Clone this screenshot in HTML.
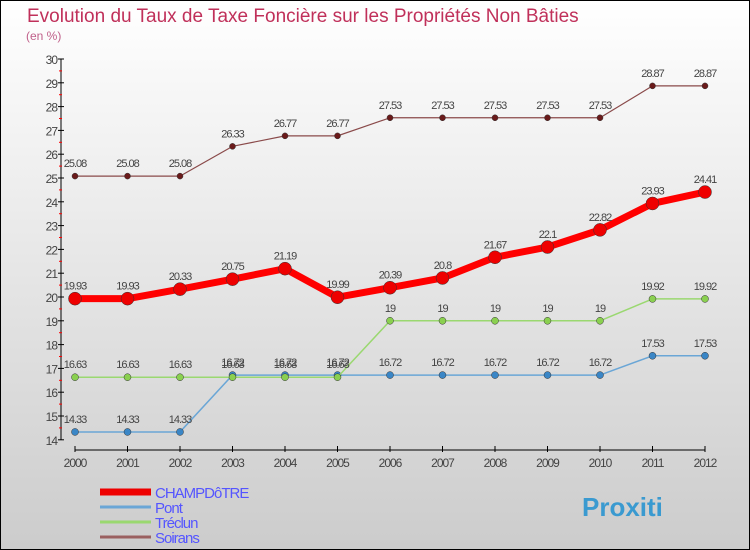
<!DOCTYPE html>
<html><head><meta charset="utf-8"><style>
body{margin:0;width:750px;height:550px;overflow:hidden}
#c{position:absolute;left:0;top:0;width:748px;height:548px;border:1px solid #000;background:linear-gradient(#fff,#ccc)}
svg{position:absolute;left:0;top:0}
text{font-family:"Liberation Sans",sans-serif}
</style></head><body>
<div id="c"></div>
<svg id="s" width="750" height="550"></svg>
<script>
const years=[2000,2001,2002,2003,2004,2005,2006,2007,2008,2009,2010,2011,2012];
const champ=[19.93,19.93,20.33,20.75,21.19,19.99,20.39,20.8,21.67,22.1,22.82,23.93,24.41];
const pont=[14.33,14.33,14.33,16.72,16.72,16.72,16.72,16.72,16.72,16.72,16.72,17.53,17.53];
const treclun=[16.63,16.63,16.63,16.63,16.63,16.63,19,19,19,19,19,19.92,19.92];
const soirans=[25.08,25.08,25.08,26.33,26.77,26.77,27.53,27.53,27.53,27.53,27.53,28.87,28.87];
const yTicks=[14,15,16,17,18,19,20,21,22,23,24,25,26,27,28,29,30];
const xs=i=>75+i*52.5, ys=v=>297-(v-20)*23.8;
const S=document.getElementById('s'),NS='http://www.w3.org/2000/svg';
function el(t,a,txt){const e=document.createElementNS(NS,t);for(const k in a)e.setAttribute(k,a[k]);if(txt!==undefined)e.textContent=txt;S.appendChild(e);return e;}
let e;
e=el('text',{x:27,y:22,'font-size':19,fill:'#c0305a'},'Evolution du Taux de Taxe Foncière sur les Propriétés Non Bâties');

e=el('text',{x:26,y:40,'font-size':12,fill:'#c0608a'},'(en %)');

e=el('line',{x1:61,y1:59,x2:61,y2:440,stroke:'#000'});

e=el('line',{x1:75,y1:450,x2:705,y2:450,stroke:'#000'});

yTicks.forEach(v=>{const y=ys(v);el('line',{x1:58,y1:y,x2:64,y2:y,stroke:'#000'});
 if(v<30)el('line',{x1:59,y1:y-11.9,x2:62,y2:y-11.9,stroke:'red'});
 e=el('text',{x:57,y:y+5,'font-size':12,fill:'#444','text-anchor':'end','letter-spacing':'-1'},v);
 });
years.forEach((yr,i)=>{el('line',{x1:xs(i),y1:446,x2:xs(i),y2:452,stroke:'#000'});
 e=el('text',{x:xs(i),y:467,'font-size':12,fill:'#444','text-anchor':'middle','letter-spacing':'-1'},yr);
 });
function series(d,name,col,w,dot,dotc){
 e=el('polyline',{points:d.map((v,i)=>xs(i)+','+ys(v)).join(' '),fill:'none',stroke:col,'stroke-width':w,'stroke-linejoin':'round'});
 
 d.forEach((v,i)=>{e=el('circle',{cx:xs(i),cy:ys(v),r:dot,fill:dotc,stroke:'#333','stroke-width':0.5});
  
  e=el('text',{x:xs(i),y:ys(v)-9,'font-size':11,fill:'#444','text-anchor':'middle','letter-spacing':'-1'},String(v));
  });
}
series(pont,'pont','#6aa6d6',1.5,3.5,'#3a86c6');
series(treclun,'treclun','#9ad870',1.5,3.5,'#8ad050');
series(soirans,'soirans','#8a4a4a',1.2,3,'#6a1a1a');
series(champ,'champdotre','#f00',7,6.5,'#e00');
const leg=[['CHAMPDôTRE','#e00',7],['Pont','#6aa6d6',3],['Tréclun','#9ad870',3],['Soirans','#9a6060',3]];
leg.forEach((l,i)=>{const y=492+i*15;
 e=el('line',{x1:100,y1:y,x2:151,y2:y,stroke:l[1],'stroke-width':l[2]});
 
 e=el('text',{x:155,y:y+6,'font-size':15,fill:'#55f','letter-spacing':'-1'},l[0]);
 });
e=el('text',{x:582,y:516,'font-size':26,'font-weight':'bold',fill:'#3a9ad0'},'Proxiti');

</script></body></html>
